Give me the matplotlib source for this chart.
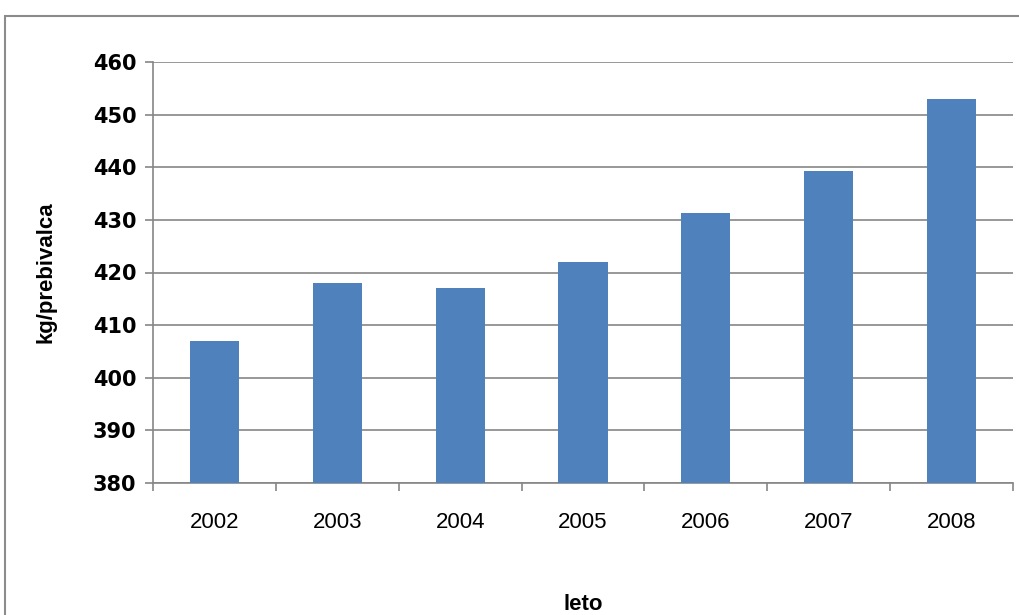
import matplotlib.pyplot as plt
from matplotlib.patches import Rectangle

years = ['2002', '2003', '2004', '2005', '2006', '2007', '2008']
values = [407, 418, 417, 422, 431.3, 439.2, 453]
yticks = [380, 390, 400, 410, 420, 430, 440, 450, 460]

W, H = 1019, 615
fig = plt.figure(figsize=(W / 100, H / 100), dpi=100)
fig.patch.set_facecolor('white')

# outer chart border (cut off at right and bottom like the screenshot)
fig.patches.append(Rectangle((5 / W, -0.05), 1.1, 1 - 16 / H + 0.05, transform=fig.transFigure,
                             fill=False, edgecolor='#8c8c8c', linewidth=1.5))

left, right, top, bottom = 153, 1013, 62, 483
ax = fig.add_axes([left / W, 1 - bottom / H, (right - left) / W, (bottom - top) / H])

x = range(len(years))
ax.bar(x, [v - 380 for v in values], bottom=380, width=0.4, color='#4F81BD', zorder=3)

ax.set_xlim(-0.5, len(years) - 0.5)
ax.set_ylim(380, 460)
ax.set_yticks(yticks)
ax.set_yticklabels([str(t) for t in yticks], fontsize=15, fontweight='bold', family='DejaVu Sans')
ax.yaxis.grid(True, color='#868686', linewidth=1.2, zorder=0)

narrow = ['Liberation Sans Narrow', 'Liberation Sans']
ax.set_xticks(list(x))
ax.set_xticklabels(years, fontsize=16, family=narrow)
ax.set_xticks([i - 0.5 for i in range(len(years) + 1)], minor=True)
ax.tick_params(axis='x', which='major', length=0, pad=21)
ax.tick_params(axis='x', which='minor', length=6, color='#868686', width=1.2)
ax.tick_params(axis='y', length=6, color='#868686', width=1.2, pad=6)

for s in ['top', 'right']:
    ax.spines[s].set_visible(False)
for s in ['left', 'bottom']:
    ax.spines[s].set_color('#868686')
    ax.spines[s].set_linewidth(1.2)

ax.set_xlabel('leto', fontsize=16, fontweight='bold', labelpad=44, family=narrow)
ax.set_ylabel('kg/prebivalca', fontsize=16, fontweight='bold', labelpad=26, family=narrow)

fig.savefig('out.png', dpi=100)
